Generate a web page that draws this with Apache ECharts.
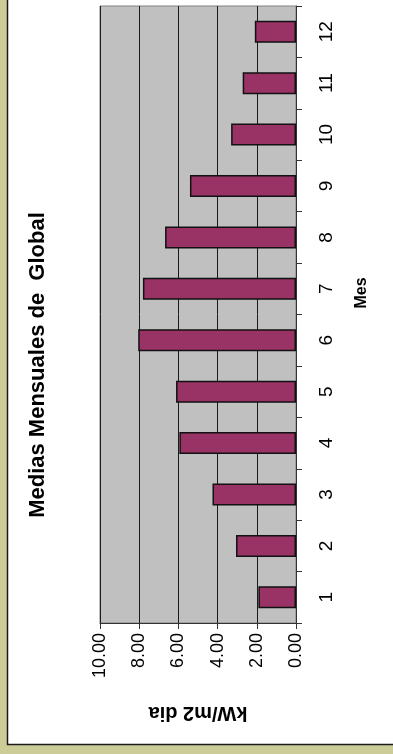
<!DOCTYPE html>
<html>
<head>
<meta charset="utf-8">
<style>
  html, body { margin: 0; padding: 0; background: #CCCC99; }
  #chart { width: 393px; height: 754px; }
</style>
<script src="https://cdn.jsdelivr.net/npm/echarts@6/dist/echarts.min.js"></script>
</head>
<body>
<div id="chart"></div>
<script>
// Monthly means of global irradiation (kW/m2 per day), month 1..12
const months = ['1', '2', '3', '4', '5', '6', '7', '8', '9', '10', '11', '12'];
const globalMeans = [1.92, 3.06, 4.26, 5.95, 6.12, 8.05, 7.81, 6.68, 5.41, 3.31, 2.72, 2.10];
const valueTicks = [0, 2, 4, 6, 8, 10];

const chart = echarts.init(document.getElementById('chart'), null, { renderer: 'canvas' });
const FONT = '"Liberation Sans", Arial, sans-serif';

chart.setOption({
  backgroundColor: '#CCCC99',
  animation: false,
  graphic: [
    {
      type: 'rect',
      z: -10,
      shape: { x: 7.5, y: -3, width: 400, height: 747.5 },
      style: { fill: '#FFFFFF', stroke: '#1a1a1a', lineWidth: 1.5 }
    },
    {
      // chart title, written bottom-to-top
      type: 'text',
      x: 38,
      y: 365,
      rotation: Math.PI / 2,
      style: {
        text: 'Medias Mensuales de  Global',
        fontFamily: FONT,
        fontWeight: 'bold',
        fontSize: 22,
        fill: '#000',
        textAlign: 'center',
        textVerticalAlign: 'middle'
      }
    },
    {
      // category axis title
      type: 'text',
      x: 362,
      y: 293,
      rotation: Math.PI / 2,
      style: {
        text: 'Mes',
        fontFamily: FONT,
        fontWeight: 'bold',
        fontSize: 16,
        fill: '#000',
        textAlign: 'center',
        textVerticalAlign: 'middle'
      }
    }
  ],
  grid: {
    left: 100,
    right: 97,
    top: 6,
    bottom: 131,
    show: true,
    backgroundColor: '#C0C0C0',
    borderColor: '#808080',
    borderWidth: 1
  },
  xAxis: {
    type: 'value',
    inverse: true,
    min: valueTicks[0],
    max: valueTicks[valueTicks.length - 1],
    interval: 2,
    position: 'bottom',
    name: 'kW/m2 dia',
    nameLocation: 'middle',
    nameRotate: 180,
    nameGap: 80,
    nameTextStyle: { fontFamily: FONT, fontWeight: 'bold', fontSize: 20, color: '#000' },
    axisLine: { show: true, lineStyle: { color: '#333', width: 1 } },
    axisTick: { show: true, length: 6, lineStyle: { color: '#333' } },
    axisLabel: {
      rotate: 90,
      margin: 10,
      fontFamily: FONT,
      fontSize: 18,
      color: '#000',
      formatter: v => v.toFixed(2)
    },
    splitLine: { show: true, lineStyle: { color: '#1a1a1a', width: 1 } }
  },
  yAxis: {
    type: 'category',
    data: months,
    position: 'right',
    axisLine: { show: true, lineStyle: { color: '#333', width: 1 } },
    axisTick: { show: true, length: 6, lineStyle: { color: '#333' } },
    axisLabel: {
      rotate: 90,
      margin: 21,
      fontFamily: FONT,
      fontSize: 19,
      color: '#000'
    },
    splitLine: { show: false }
  },
  series: [{
    type: 'bar',
    data: globalMeans,
    barWidth: 22,
    itemStyle: { color: '#993366', borderColor: '#111', borderWidth: 1.5 }
  }]
});
</script>
</body>
</html>
